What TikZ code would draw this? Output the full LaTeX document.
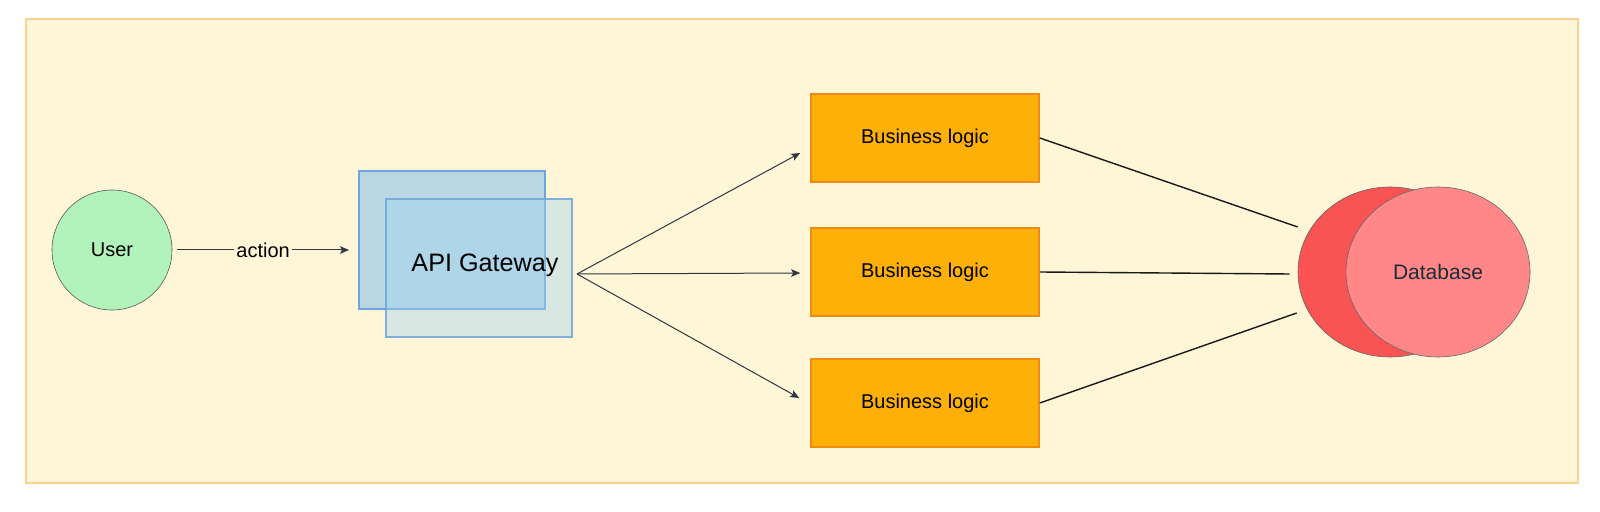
\documentclass[tikz,border=0pt]{standalone}
\usepackage{fontspec}
\setmainfont{Liberation Sans}
\usetikzlibrary{arrows.meta,shapes.geometric}
\definecolor{bgfill}{HTML}{FFF5D7}
\definecolor{bgline}{HTML}{F9D291}
\definecolor{userfill}{HTML}{B2F2BB}
\definecolor{gwback}{HTML}{B9D7E2}
\definecolor{gwfront}{HTML}{A2D4F5}
\definecolor{gwline}{HTML}{6CA6DB}
\definecolor{logicfill}{HTML}{FDB108}
\definecolor{logicline}{HTML}{EF8B13}
\definecolor{dbback}{HTML}{F95353}
\definecolor{dbfront}{HTML}{FF8787}
\definecolor{arrowcol}{HTML}{2F3842}
\definecolor{dbtext}{HTML}{1E2B38}

\begin{document}
\begin{tikzpicture}[x=0.5pt,y=-0.5pt,font=\fontsize{10}{12}\selectfont,
    user/.style={circle,draw=black!65,line width=0.3pt,fill=userfill,minimum size=60pt,inner sep=0pt},
    gwbox/.style={rectangle,draw=gwline,line width=1pt,minimum width=93pt,minimum height=69pt,inner sep=0pt},
    logic/.style={rectangle,draw=logicline,fill=logicfill,line width=0.8pt,minimum width=114pt,minimum height=44pt,inner sep=0pt},
    db/.style={ellipse,draw=black!60,line width=0.3pt,minimum width=92pt,minimum height=85pt,inner sep=0pt},
    arrow/.style={draw=arrowcol,line width=0.5pt,-{Stealth[length=4.5pt,width=3.8pt,inset=1pt]}},
    link/.style={draw=black!90,line width=0.7pt}]

    \useasboundingbox (0,0) rectangle (1600,512);
    \draw[fill=bgfill,draw=bgline,line width=0.75pt] (26,19) rectangle (1578,483);

    % nodes
    \node[user] (user) at (112,250) {User};
    \node[gwbox,fill=gwback] (gwb) at (452,240) {};
    \node[gwbox,fill=gwfront,fill opacity=0.4,draw opacity=0.85] (gwf) at (478.5,268.5) {};
    \node[font=\fontsize{12.6}{14}\selectfont] (gwtext) at (485,265) {API Gateway};

    \node[logic] (logic1) at (925,138) {Business logic};
    \node[logic] (logic2) at (925,272) {Business logic};
    \node[logic] (logic3) at (925,403) {Business logic};

    \node[db,fill=dbback] (dbb) at (1390,272) {};
    \node[db,fill=dbfront,text=dbtext,font=\fontsize{10.5}{12}\selectfont] (dbf) at (1438,272) {Database};

    \coordinate (gwout) at (577,274);

    % connectors
    \draw[arrow,shorten <=2.5pt,shorten >=4.5pt] (user.east) -- node[fill=bgfill,inner sep=1pt,xshift=-1pt] {action} (user.east -| gwb.west);
    \draw[arrow] (gwout) -- ([shift={(-10,15)}]logic1.west);
    \draw[arrow] (gwout) -- ([shift={(-10,1)}]logic2.west);
    \draw[arrow] (gwout) -- ([shift={(-11,-5)}]logic3.west);

    \draw[link] (logic1.east) -- ([shift={(0,-45)}]dbb.west);
    \draw[link] (logic2.east) -- ([shift={(-8,2)}]dbb.west);
    \draw[link] (logic3.east) -- ([shift={(-1,41)}]dbb.west);
\end{tikzpicture}
\end{document}
